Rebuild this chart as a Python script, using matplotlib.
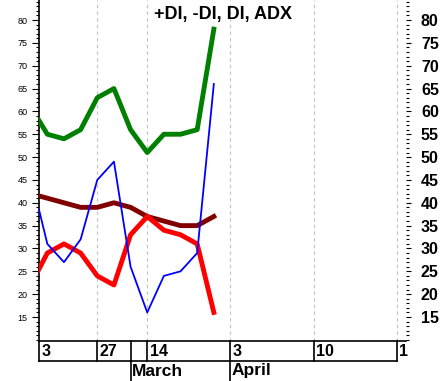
import matplotlib
matplotlib.use('Agg')
import matplotlib.pyplot as plt
from matplotlib.ticker import FixedLocator, MultipleLocator
from matplotlib.transforms import blended_transform_factory

plt.rcParams['font.family'] = ['Liberation Sans', 'DejaVu Sans']

# Dados: índice de pregão (0 = primeira barra inteira)
days = [-1, 0, 1, 2, 3, 4, 5, 6, 7, 8, 9, 10]
plus_di = [61, 55, 54, 56, 63, 65, 56, 51, 55, 55, 56, 78]
minus_di = [22, 29, 31, 29, 24, 22, 33, 37, 34, 33, 31, 16]
di = [46, 31, 27, 32, 45, 49, 26, 16, 24, 25, 29, 66]
adx = [42, 41, 40, 39, 39, 40, 39, 37, 36, 35, 35, 37]

# Faixa de datas embaixo
day_pos = [-0.5, 3, 5, 6, 11, 16, 21]
day_labels = ['3', '27', '', '14', '3', '10', '1']
month_pos = [5, 11]
month_labels = ['March', 'April']
grid_pos = [3, 6, 11, 16, 21]
y_labels = list(range(15, 85, 5))

fig = plt.figure(figsize=(4.43, 3.81), dpi=100)
ax = fig.add_axes([39 / 443, 40 / 381, 367 / 443, 341 / 381])

for g in grid_pos:
    ax.axvline(g, color='#c0c0c0', linestyle=(0, (3, 3)), linewidth=0.8, zorder=1)

ax.plot(days, adx, color='#800000', linewidth=3.5, zorder=3)
ax.plot(days, minus_di, color='#ff0000', linewidth=3.5, zorder=3)
ax.plot(days, plus_di, color='#008000', linewidth=3.5, zorder=3)
ax.plot(days, di, color='#0000ff', linewidth=1.3, zorder=4)

ax.set_xlim(-0.5, 21.54)
ax.set_ylim(9.75, 84.38)
ax.set_xticks([])
ax.spines['top'].set_visible(False)
ax.spines['right'].set_visible(False)
ax.spines['left'].set_linewidth(1.2)
ax.spines['bottom'].set_linewidth(1.2)

# eixo esquerdo: rótulos pequenos
ax.yaxis.set_major_locator(FixedLocator(y_labels))
ax.yaxis.set_minor_locator(MultipleLocator(1))
ax.tick_params(axis='y', which='major', length=4.7, width=0.8, labelsize=6.5, pad=3.5)
ax.tick_params(axis='y', which='minor', length=2.2, width=0.8)

# eixo direito: rótulos em negrito
ax2 = ax.twinx()
ax2.set_ylim(ax.get_ylim())
for s in ax2.spines.values():
    s.set_visible(False)
ax2.yaxis.set_major_locator(FixedLocator(y_labels))
ax2.yaxis.set_minor_locator(MultipleLocator(1))
ax2.tick_params(axis='y', which='major', length=3.8, width=0.8, labelsize=11.5, pad=7)
ax2.tick_params(axis='y', which='minor', length=2, width=0.8)
for lbl in ax2.get_yticklabels():
    lbl.set_fontweight('bold')

ax.text(0.5, 0.958, '+DI, -DI, DI, ADX', transform=ax.transAxes, ha='center', va='center',
        fontsize=13, fontweight='bold')

# faixa de dias / meses
trans = blended_transform_factory(ax.transData, ax.transAxes)
row1 = -20 / 341
row2 = -40 / 341
ax.plot([-0.5, 21], [row1, row1], color='black', linewidth=1.2, transform=trans, clip_on=False)
for p, lab in zip(day_pos, day_labels):
    ax.plot([p, p], [0, row1], color='black', linewidth=1.2, transform=trans, clip_on=False)
    ax.text(p + 0.14, row1 / 2, lab, transform=trans, ha='left', va='center',
            fontsize=11.5, fontweight='bold')
for p, lab in zip(month_pos, month_labels):
    ax.plot([p, p], [row1, row2], color='black', linewidth=1.2, transform=trans, clip_on=False)
    ax.text(p + 0.08, (row1 + row2) / 2, lab, transform=trans, ha='left', va='center',
            fontsize=12.5, fontweight='bold')

fig.savefig('out.png', dpi=100)
plt.close()
